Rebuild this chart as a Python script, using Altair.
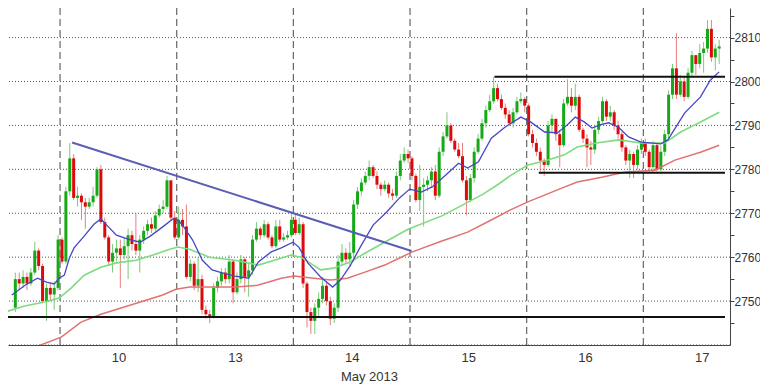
import altair as alt
import pandas as pd

# ---- candles: 30 half-hour bars per session, bar index 0 = first bar of 10 May ----
first_bar = -12
opens = [
    2748.5, 2755.0, 2754.0, 2755.5, 2754.0, 2756.5, 2761.5, 2758.0, 2750.0, 2753.0, 2751.5, 2753.0,
    2764.0, 2759.0, 2775.0, 2782.5, 2773.5, 2774.0, 2772.5, 2771.5, 2772.5, 2774.0, 2780.0, 2768.0, 2764.5, 2759.0, 2761.0,
    2762.0, 2760.5, 2762.5, 2765.0, 2763.0, 2761.5, 2764.0, 2766.0, 2767.5, 2766.5, 2769.5, 2771.0, 2771.5, 2777.5, 2769.0,
    2764.5, 2768.5, 2767.0, 2755.5, 2758.5, 2753.5, 2755.0, 2748.0, 2747.0, 2746.5, 2753.0, 2754.5, 2756.5, 2755.0, 2759.0,
    2752.0, 2755.0, 2759.5, 2755.5, 2757.0, 2764.0, 2766.5, 2765.0, 2767.5, 2764.5, 2762.5, 2767.0, 2764.0, 2764.5, 2765.0,
    2768.5, 2765.5, 2767.5, 2754.0, 2747.5, 2745.5, 2748.5, 2750.5, 2753.5, 2750.0, 2746.0, 2748.5, 2759.0, 2761.0, 2759.5,
    2761.0, 2772.0, 2775.0, 2777.0, 2778.5, 2780.5, 2778.5, 2776.5, 2775.5, 2776.5, 2774.5, 2774.0, 2778.5, 2782.0, 2783.5,
    2782.5, 2778.5, 2773.0, 2776.0, 2776.5, 2777.5, 2779.5, 2774.0, 2784.0, 2787.5, 2790.0, 2786.5, 2784.5, 2783.0, 2777.5,
    2773.0, 2778.0, 2784.0, 2787.0, 2790.5, 2793.5, 2795.5, 2798.5, 2796.0, 2794.0, 2792.5, 2790.5, 2793.0, 2795.5, 2796.0,
    2794.5, 2788.0, 2786.0, 2784.0, 2782.0, 2781.0, 2790.0, 2791.5, 2788.0, 2785.5, 2795.0, 2796.5, 2794.5, 2796.5, 2789.0,
    2787.0, 2785.0, 2784.5, 2789.0, 2791.0, 2795.5, 2792.0, 2793.0, 2790.0, 2788.0, 2785.0, 2782.0, 2783.5, 2781.0, 2784.5,
    2786.0, 2784.0, 2780.5, 2785.5, 2780.0, 2784.0, 2788.0, 2797.0, 2803.0, 2797.0, 2800.0, 2796.5, 2802.0, 2806.0, 2804.0,
    2806.5, 2807.5, 2812.0, 2805.5, 2807.5,
]
closes = [
    2755.0, 2754.0, 2755.5, 2754.0, 2756.5, 2761.5, 2758.0, 2750.0, 2753.0, 2751.5, 2753.0, 2764.0,
    2759.0, 2775.0, 2782.5, 2773.5, 2774.0, 2772.5, 2771.5, 2772.5, 2774.0, 2780.0, 2768.0, 2764.5, 2759.0, 2761.0, 2762.0,
    2760.5, 2762.5, 2765.0, 2763.0, 2761.5, 2764.0, 2766.0, 2767.5, 2766.5, 2769.5, 2771.0, 2771.5, 2777.5, 2769.0, 2764.5,
    2768.5, 2767.0, 2755.5, 2758.5, 2753.5, 2755.0, 2748.0, 2747.0, 2746.5, 2753.0, 2754.5, 2756.5, 2755.0, 2759.0, 2752.0,
    2755.0, 2759.5, 2755.5, 2757.0, 2764.0, 2766.5, 2765.0, 2767.5, 2764.5, 2762.5, 2767.0, 2764.0, 2764.5, 2765.0, 2768.5,
    2765.5, 2767.5, 2754.0, 2747.5, 2745.5, 2748.5, 2750.5, 2753.5, 2750.0, 2746.0, 2748.5, 2759.0, 2761.0, 2759.5, 2761.0,
    2772.0, 2775.0, 2777.0, 2778.5, 2780.5, 2778.5, 2776.5, 2775.5, 2776.5, 2774.5, 2774.0, 2778.5, 2782.0, 2783.5, 2782.5,
    2778.5, 2773.0, 2776.0, 2776.5, 2777.5, 2779.5, 2774.0, 2784.0, 2787.5, 2790.0, 2786.5, 2784.5, 2783.0, 2777.5, 2773.0,
    2778.0, 2784.0, 2787.0, 2790.5, 2793.5, 2795.5, 2798.5, 2796.0, 2794.0, 2792.5, 2790.5, 2793.0, 2795.5, 2796.0, 2794.5,
    2788.0, 2786.0, 2784.0, 2782.0, 2781.0, 2790.0, 2791.5, 2788.0, 2785.5, 2795.0, 2796.5, 2794.5, 2796.5, 2789.0, 2787.0,
    2785.0, 2784.5, 2789.0, 2791.0, 2795.5, 2792.0, 2793.0, 2790.0, 2788.0, 2785.0, 2782.0, 2783.5, 2781.0, 2784.5, 2786.0,
    2784.0, 2780.5, 2785.5, 2780.0, 2784.0, 2788.0, 2797.0, 2803.0, 2797.0, 2800.0, 2796.5, 2802.0, 2806.0, 2804.0, 2806.5,
    2807.5, 2812.0, 2805.5, 2807.5, 2808.0,
]
highs = [
    2756.5, 2756.5, 2757.0, 2756.5, 2757.5, 2763.5, 2762.0, 2758.5, 2754.0, 2754.0, 2754.5, 2765.0,
    2764.5, 2776.0, 2786.0, 2783.5, 2776.0, 2774.5, 2773.5, 2773.5, 2776.0, 2780.5, 2781.0, 2769.0, 2765.0, 2763.0, 2764.0,
    2764.0, 2764.5, 2766.5, 2766.0, 2770.0, 2765.0, 2767.0, 2768.5, 2769.0, 2770.5, 2772.0, 2773.0, 2778.5, 2777.0, 2770.5,
    2771.5, 2771.0, 2772.0, 2759.5, 2759.0, 2760.0, 2756.0, 2749.0, 2748.0, 2754.0, 2755.5, 2757.5, 2757.5, 2760.5, 2759.5,
    2756.5, 2760.5, 2760.0, 2758.5, 2765.0, 2768.0, 2767.0, 2768.5, 2768.0, 2765.0, 2768.5, 2768.5, 2765.5, 2766.0, 2770.0,
    2770.0, 2769.0, 2768.0, 2754.5, 2748.5, 2749.5, 2752.0, 2755.5, 2754.5, 2751.0, 2749.5, 2760.5, 2763.0, 2762.0, 2763.5,
    2773.0, 2776.0, 2778.0, 2779.5, 2782.0, 2781.0, 2779.5, 2777.0, 2777.5, 2777.0, 2775.5, 2779.5, 2783.5, 2785.0, 2784.5,
    2783.0, 2779.0, 2781.0, 2778.0, 2778.5, 2780.5, 2781.0, 2785.0, 2788.5, 2793.0, 2790.5, 2787.0, 2786.0, 2786.0, 2778.5,
    2779.0, 2785.0, 2788.0, 2791.5, 2794.5, 2797.0, 2801.0, 2799.5, 2797.0, 2795.0, 2793.5, 2794.0, 2796.5, 2797.5, 2796.5,
    2795.0, 2789.0, 2787.0, 2785.0, 2782.5, 2791.0, 2792.5, 2791.5, 2789.0, 2796.0, 2800.5, 2798.5, 2799.5, 2797.0, 2789.5,
    2788.0, 2786.5, 2790.0, 2792.0, 2796.5, 2796.0, 2794.5, 2793.5, 2791.0, 2788.5, 2785.5, 2784.5, 2784.0, 2785.5, 2787.0,
    2787.0, 2784.5, 2786.5, 2786.0, 2785.5, 2789.0, 2798.0, 2804.0, 2811.0, 2801.5, 2801.0, 2803.0, 2807.0, 2806.0, 2808.5,
    2809.0, 2814.0, 2814.0, 2808.5, 2809.5,
]
lows = [
    2747.5, 2752.5, 2753.0, 2752.5, 2753.5, 2756.0, 2757.0, 2749.5, 2745.5, 2750.0, 2748.0, 2752.5,
    2758.5, 2758.5, 2774.0, 2773.0, 2771.5, 2768.5, 2766.5, 2771.0, 2771.5, 2773.5, 2767.5, 2764.0, 2758.0, 2756.5, 2759.0,
    2753.0, 2759.5, 2755.0, 2761.5, 2760.5, 2756.5, 2763.0, 2765.0, 2765.5, 2766.0, 2769.0, 2770.0, 2771.0, 2768.5, 2764.0,
    2764.0, 2765.0, 2755.0, 2754.5, 2752.5, 2752.0, 2747.0, 2746.0, 2745.0, 2746.0, 2752.0, 2753.5, 2754.0, 2754.0, 2749.5,
    2751.5, 2754.0, 2752.0, 2751.0, 2756.0, 2763.5, 2764.0, 2764.5, 2764.0, 2762.0, 2762.0, 2763.5, 2763.5, 2764.0, 2764.5,
    2765.0, 2765.0, 2753.0, 2744.0, 2742.5, 2742.5, 2746.5, 2749.5, 2749.0, 2744.5, 2745.0, 2747.5, 2758.0, 2758.5, 2758.0,
    2759.0, 2771.0, 2774.0, 2776.5, 2777.5, 2778.0, 2775.5, 2774.0, 2775.0, 2773.5, 2773.0, 2773.5, 2777.5, 2781.5, 2781.5,
    2777.5, 2772.5, 2770.5, 2767.0, 2775.0, 2776.0, 2773.0, 2773.5, 2783.0, 2787.0, 2786.0, 2784.0, 2782.5, 2777.0, 2769.5,
    2772.5, 2777.0, 2783.5, 2786.5, 2789.5, 2793.0, 2795.0, 2795.5, 2793.5, 2791.5, 2790.0, 2789.5, 2792.5, 2795.0, 2793.0,
    2787.5, 2785.0, 2783.0, 2779.5, 2778.5, 2780.5, 2788.5, 2786.5, 2780.5, 2785.0, 2794.5, 2793.0, 2793.5, 2788.5, 2786.0,
    2780.5, 2781.0, 2783.5, 2788.0, 2790.5, 2791.0, 2791.0, 2789.0, 2787.0, 2784.0, 2781.0, 2778.0, 2778.0, 2780.0, 2783.5,
    2783.0, 2779.5, 2779.0, 2779.5, 2779.5, 2783.0, 2787.0, 2796.0, 2796.0, 2796.5, 2795.5, 2796.0, 2801.0, 2801.5, 2803.0,
    2802.0, 2806.5, 2804.5, 2802.5, 2804.0,
]

# ---- moving averages (bar position, price) ----
ma_fast_t = [-12.4, -9.0, -5.8, -3.5, -1.5, -0.2, 1.1, 2.4, 3.6, 6.2, 8.7, 10.5, 12.0, 14.5, 17.5, 20.6, 23.2, 26.4,
             29.0, 30.3, 31.5, 34.1, 36.6, 39.1, 41.7, 45.0, 48.5, 51.0, 54.3, 56.9, 59.9, 61.4, 63.7, 67.0, 70.1,
             72.1, 74.6, 77.2, 80.5, 84.0, 87.3, 89.9, 92.9, 95.7, 99.2, 102.5, 104.8, 107.6, 110.9, 114.4, 118.5,
             121.0, 124.6, 127.9, 130.4, 132.5, 134.8, 136.8, 138.8, 141.1, 143.6, 146.2, 149.4, 154.5, 156.3,
             160.6, 164.7, 167.2, 169.5]
ma_fast_v = [2751.4, 2753.6, 2755.2, 2754.3, 2753.9, 2755.2, 2755.9, 2759.8, 2762.1, 2764.8, 2767.5, 2768.7, 2767.3,
             2765.0, 2764.1, 2763.4, 2764.8, 2766.9, 2768.7, 2768.5, 2767.3, 2763.9, 2759.3, 2757.1, 2756.4, 2755.7,
             2755.2, 2758.9, 2761.2, 2762.1, 2763.4, 2762.3, 2758.7, 2755.5, 2753.2, 2754.8, 2758.0, 2762.3, 2767.3,
             2770.3, 2773.5, 2775.5, 2774.8, 2776.0, 2778.7, 2781.4, 2780.3, 2781.7, 2787.1, 2789.6, 2791.9, 2790.8,
             2788.5, 2788.3, 2790.1, 2791.9, 2790.8, 2789.4, 2790.1, 2790.6, 2789.6, 2787.4, 2786.2, 2785.8, 2786.7,
             2792.8, 2796.5, 2800.3, 2802.2]
ma_mid_t = [-14.1, -9.1, -4.0, -0.2, 2.9, 6.2, 10.5, 14.5, 19.6, 23.9, 28.2, 30.3, 33.3, 38.4, 45.0, 51.0, 55.1, 59.4,
            62.0, 67.0, 70.3, 74.6, 78.4, 84.5, 89.6, 98.2, 102.5, 108.9, 112.7, 115.7, 120.3, 124.6, 129.7, 133.0,
            138.0, 143.6, 149.4, 155.5, 159.6, 164.7, 169.5]
ma_mid_v = [2747.5, 2748.9, 2749.8, 2750.7, 2753.0, 2755.9, 2757.7, 2758.7, 2759.3, 2760.5, 2761.8, 2762.3, 2761.8,
            2760.0, 2759.3, 2758.2, 2759.3, 2760.5, 2760.0, 2757.1, 2757.5, 2758.9, 2760.9, 2763.9, 2766.4, 2769.4,
            2771.4, 2774.4, 2776.6, 2778.5, 2781.0, 2781.9, 2783.3, 2785.1, 2786.0, 2786.7, 2786.0, 2786.0, 2788.5,
            2790.8, 2793.0]
ma_slow_t = [-6.5, 0.3, 5.4, 10.5, 16.3, 22.1, 26.4, 29.8, 33.3, 39.1, 45.0, 50.8, 56.9, 60.2, 65.3, 69.6, 73.9, 78.4,
             83.5, 87.3, 90.6, 98.2, 104.8, 109.9, 115.7, 120.3, 128.7, 133.0, 139.3, 145.4, 153.0, 158.1, 164.7, 169.5]
ma_slow_v = [2739.5, 2741.8, 2745.2, 2747.0, 2748.6, 2750.2, 2751.4, 2752.7, 2753.2, 2753.2, 2753.2, 2753.6, 2755.2,
             2755.7, 2755.2, 2754.8, 2755.2, 2756.6, 2758.2, 2759.8, 2761.2, 2763.7, 2765.7, 2768.0, 2770.7, 2772.6,
             2775.6, 2777.1, 2778.2, 2779.4, 2779.8, 2782.1, 2783.9, 2785.5]

# ---- drawn studies ----
trend_t = [3.1, 90.4]
trend_v = [2786.1, 2761.4]
level_start = [-13.4, 111.7, 123.1]
level_end = [171.0, 171.0, 171.0]
level_price = [2746.4, 2801.1, 2779.2]

# ---- axes ----
sessions = ["9", "10", "13", "14", "15", "16", "17"]
bars_per_session = 30
grid_prices = [2740, 2750, 2760, 2770, 2780, 2790, 2800, 2810]
tick_prices = [2745, 2750, 2755, 2760, 2765, 2770, 2775, 2780, 2785, 2790, 2795, 2800, 2805, 2810, 2815]
x_domain = [-12.1, 171.0]
y_domain = [2740.0, 2816.74]

session_centers = [(i - 0.5) * bars_per_session for i in range(len(sessions))]
session_bounds = [i * bars_per_session for i in range(len(sessions) - 1)]

n = len(closes)
bars = pd.DataFrame({
    "t": [first_bar + i + 0.5 for i in range(n)],
    "open": opens, "high": highs, "low": lows, "close": closes,
})
bars["dir"] = ["up" if c >= o else "down" for o, c in zip(opens, closes)]

FONT = "Liberation Sans"
xs = alt.Scale(domain=x_domain, nice=False, zero=False)
ys = alt.Scale(domain=y_domain, nice=False, zero=False)

label_expr = " : ".join(
    f"datum.value == {c} ? '{s}'" for c, s in zip(session_centers, sessions)
) + " : ''"

x_axis = alt.Axis(values=session_centers, labelExpr=label_expr, title="May 2013", ticks=False,
                  grid=False, domainColor="#444", labelFont=FONT, labelFontSize=13, labelColor="#333",
                  labelPadding=6, titleFont=FONT, titleFontSize=13, titleFontWeight="normal",
                  titleColor="#333", titleBaseline="alphabetic", titleY=35, labelFlush=False)
y_axis = alt.Axis(orient="right", values=tick_prices, labelExpr="datum.value % 10 == 0 ? datum.label : ''",
                  format="d", grid=False, tickSize=4, tickColor="#444", domainColor="#444",
                  labelFont=FONT, labelFontSize=12, labelColor="#333", labelPadding=0, title=None)


def X(field):
    return alt.X(field, type="quantitative", scale=xs, axis=x_axis)


def Y(field):
    return alt.Y(field, type="quantitative", scale=ys, axis=y_axis)


grid = alt.Chart(pd.DataFrame({"p": grid_prices})).mark_rule(
    color="#555", strokeDash=[1, 2], strokeWidth=1).encode(y=Y("p"))
vlines = alt.Chart(pd.DataFrame({"t": session_bounds})).mark_rule(
    color="#666", strokeDash=[7, 4], strokeWidth=1.2).encode(x=X("t"))

wick_color = alt.Stroke("dir:N", scale=alt.Scale(domain=["up", "down"], range=["#78cc78", "#e87e7e"]), legend=None)
body_color = alt.Fill("dir:N", scale=alt.Scale(domain=["up", "down"], range=["#16a816", "#dc0a0a"]), legend=None)

wicks = alt.Chart(bars).mark_rule(strokeWidth=1, clip=True).encode(
    x=X("t"), y=Y("low"), y2="high", stroke=wick_color)
bodies = alt.Chart(bars).mark_bar(size=3, clip=True, strokeWidth=0).encode(
    x=X("t"), y=Y("open"), y2="close", fill=body_color)


def ma_layer(ts, vs, color, width):
    df = pd.DataFrame({"t": ts, "v": vs})
    return alt.Chart(df).mark_line(color=color, strokeWidth=width, clip=True).encode(x=X("t"), y=Y("v"))


ma_slow = ma_layer(ma_slow_t, ma_slow_v, "#e07272", 1.5)
ma_mid = ma_layer(ma_mid_t, ma_mid_v, "#7edc7e", 1.6)
ma_fast = ma_layer(ma_fast_t, ma_fast_v, "#4646c8", 1.3)

levels = alt.Chart(pd.DataFrame({"t": level_start, "t2": level_end, "p": level_price})).mark_rule(
    color="#111", strokeWidth=2, clip=True).encode(x=X("t"), x2="t2", y=Y("p"))
trend = alt.Chart(pd.DataFrame({"t": trend_t, "v": trend_v})).mark_line(
    color="#5a5eb4", strokeWidth=2, clip=True).encode(x=X("t"), y=Y("v"))

chart = alt.layer(grid, vlines, wicks, bodies, ma_slow, ma_mid, ma_fast, levels, trend).properties(
    width=722, height=337,
    autosize=alt.AutoSizeParams(type="none"),
    padding={"left": 0, "top": 0, "right": 30, "bottom": 39},
    background="white",
).configure_view(stroke=None)

chart.save("out.html", embed_options={"renderer": "svg", "actions": False})
